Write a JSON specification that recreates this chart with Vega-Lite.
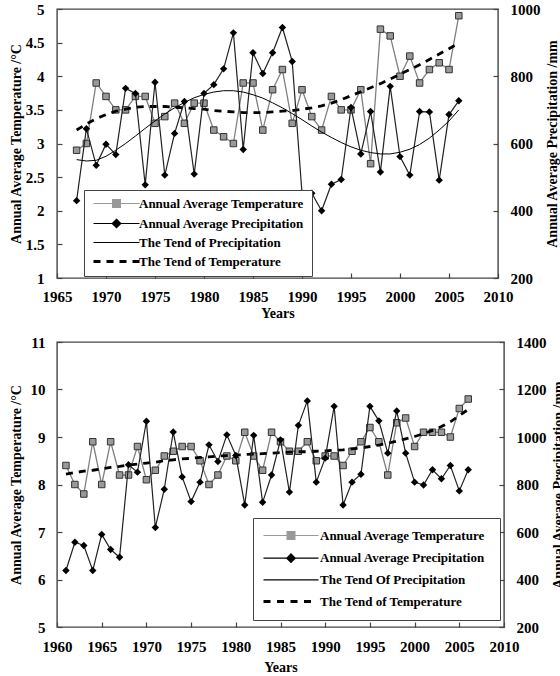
{
  "$schema": "https://vega.github.io/schema/vega-lite/v6.json",
  "background": "white",
  "padding": {"left": 8, "top": 1, "right": 0, "bottom": 0},
  "config": {
    "font": "Liberation Serif",
    "view": {"stroke": "#444", "strokeWidth": 1.4},
    "axis": {
      "labelFont": "Liberation Serif", "labelFontWeight": "bold", "labelFontSize": 15, "labelColor": "#000",
      "titleFont": "Liberation Serif", "titleFontWeight": "bold", "titleFontSize": 14, "titleColor": "#000",
      "grid": false, "domain": false, "tickColor": "#444", "tickSize": -5, "tickWidth": 1.2,
      "labelFlush": false, "labelOverlap": false
    },
    "legend": {
      "labelFont": "Liberation Serif", "labelFontWeight": "bold", "labelFontSize": 13, "labelColor": "#000",
      "strokeColor": "#444", "fillColor": "white", "padding": 7, "symbolSize": 100, "labelLimit": 300,
      "symbolOffset": 19, "labelOffset": 16, "rowPadding": 5, "title": null
    }
  },
  "datasets": {
    "top": [
      {"year":1967,"T":2.9,"P":430,"TT":3.20,"TP":552},
      {"year":1968,"T":3.0,"P":644,"TT":3.29,"TP":548},
      {"year":1969,"T":3.9,"P":535,"TT":3.37,"TP":550},
      {"year":1970,"T":3.7,"P":598,"TT":3.43,"TP":562},
      {"year":1971,"T":3.5,"P":567,"TT":3.48,"TP":580},
      {"year":1972,"T":3.5,"P":764,"TT":3.51,"TP":600},
      {"year":1973,"T":3.7,"P":749,"TT":3.54,"TP":622},
      {"year":1974,"T":3.7,"P":477,"TT":3.55,"TP":645},
      {"year":1975,"T":3.3,"P":782,"TT":3.55,"TP":667},
      {"year":1976,"T":3.4,"P":506,"TT":3.55,"TP":688},
      {"year":1977,"T":3.6,"P":630,"TT":3.54,"TP":706},
      {"year":1978,"T":3.3,"P":725,"TT":3.53,"TP":722},
      {"year":1979,"T":3.6,"P":509,"TT":3.52,"TP":736},
      {"year":1980,"T":3.6,"P":749,"TT":3.51,"TP":746},
      {"year":1981,"T":3.2,"P":775,"TT":3.49,"TP":753},
      {"year":1982,"T":3.1,"P":822,"TT":3.48,"TP":757},
      {"year":1983,"T":3.0,"P":929,"TT":3.47,"TP":757},
      {"year":1984,"T":3.9,"P":582,"TT":3.46,"TP":753},
      {"year":1985,"T":3.9,"P":870,"TT":3.46,"TP":745},
      {"year":1986,"T":3.2,"P":808,"TT":3.46,"TP":735},
      {"year":1987,"T":3.8,"P":870,"TT":3.47,"TP":721},
      {"year":1988,"T":4.1,"P":945,"TT":3.48,"TP":706},
      {"year":1989,"T":3.3,"P":844,"TT":3.49,"TP":689},
      {"year":1990,"T":3.8,"P":452,"TT":3.51,"TP":671},
      {"year":1991,"T":3.4,"P":452,"TT":3.53,"TP":652},
      {"year":1992,"T":3.2,"P":400,"TT":3.56,"TP":634},
      {"year":1993,"T":3.7,"P":479,"TT":3.60,"TP":618},
      {"year":1994,"T":3.5,"P":493,"TT":3.65,"TP":603},
      {"year":1995,"T":3.5,"P":707,"TT":3.71,"TP":590},
      {"year":1996,"T":3.8,"P":569,"TT":3.77,"TP":580},
      {"year":1997,"T":2.7,"P":695,"TT":3.83,"TP":573},
      {"year":1998,"T":4.7,"P":515,"TT":3.89,"TP":569},
      {"year":1999,"T":4.6,"P":770,"TT":3.96,"TP":569},
      {"year":2000,"T":4.0,"P":561,"TT":4.03,"TP":574},
      {"year":2001,"T":4.3,"P":506,"TT":4.10,"TP":583},
      {"year":2002,"T":3.9,"P":695,"TT":4.17,"TP":597},
      {"year":2003,"T":4.1,"P":694,"TT":4.25,"TP":616},
      {"year":2004,"T":4.2,"P":491,"TT":4.33,"TP":640},
      {"year":2005,"T":4.1,"P":686,"TT":4.41,"TP":667},
      {"year":2006,"T":4.9,"P":727,"TT":4.49,"TP":700}
    ],
    "bottom": [
      {"year":1961,"T":8.4,"P":438,"TT":8.22},
      {"year":1962,"T":8.0,"P":557,"TT":8.25},
      {"year":1963,"T":7.8,"P":543,"TT":8.28},
      {"year":1964,"T":8.9,"P":438,"TT":8.30},
      {"year":1965,"T":8.0,"P":590,"TT":8.33},
      {"year":1966,"T":8.9,"P":526,"TT":8.36},
      {"year":1967,"T":8.2,"P":494,"TT":8.38},
      {"year":1968,"T":8.2,"P":883,"TT":8.41},
      {"year":1969,"T":8.8,"P":852,"TT":8.43},
      {"year":1970,"T":8.1,"P":1066,"TT":8.45},
      {"year":1971,"T":8.3,"P":619,"TT":8.47},
      {"year":1972,"T":8.6,"P":780,"TT":8.50},
      {"year":1973,"T":8.7,"P":1021,"TT":8.52},
      {"year":1974,"T":8.8,"P":832,"TT":8.54},
      {"year":1975,"T":8.8,"P":728,"TT":8.55},
      {"year":1976,"T":8.5,"P":810,"TT":8.57},
      {"year":1977,"T":8.0,"P":967,"TT":8.58},
      {"year":1978,"T":8.2,"P":897,"TT":8.60},
      {"year":1979,"T":8.6,"P":1009,"TT":8.61},
      {"year":1980,"T":8.5,"P":922,"TT":8.62},
      {"year":1981,"T":9.1,"P":714,"TT":8.63},
      {"year":1982,"T":8.6,"P":1007,"TT":8.64},
      {"year":1983,"T":8.3,"P":725,"TT":8.65},
      {"year":1984,"T":9.1,"P":840,"TT":8.66},
      {"year":1985,"T":8.9,"P":988,"TT":8.67},
      {"year":1986,"T":8.7,"P":768,"TT":8.68},
      {"year":1987,"T":8.7,"P":1049,"TT":8.69},
      {"year":1988,"T":8.9,"P":1152,"TT":8.69},
      {"year":1989,"T":8.5,"P":810,"TT":8.70},
      {"year":1990,"T":8.6,"P":911,"TT":8.71},
      {"year":1991,"T":8.6,"P":1129,"TT":8.72},
      {"year":1992,"T":8.4,"P":714,"TT":8.73},
      {"year":1993,"T":8.7,"P":810,"TT":8.75},
      {"year":1994,"T":8.9,"P":843,"TT":8.77},
      {"year":1995,"T":9.2,"P":1129,"TT":8.80},
      {"year":1996,"T":8.9,"P":1068,"TT":8.83},
      {"year":1997,"T":8.2,"P":932,"TT":8.87},
      {"year":1998,"T":9.3,"P":1110,"TT":8.91},
      {"year":1999,"T":9.4,"P":932,"TT":8.96},
      {"year":2000,"T":8.8,"P":810,"TT":9.01},
      {"year":2001,"T":9.1,"P":798,"TT":9.07},
      {"year":2002,"T":9.1,"P":862,"TT":9.14},
      {"year":2003,"T":9.1,"P":824,"TT":9.22},
      {"year":2004,"T":9.0,"P":880,"TT":9.32},
      {"year":2005,"T":9.6,"P":773,"TT":9.45},
      {"year":2006,"T":9.8,"P":862,"TT":9.58}
    ]
  },
  "spacing": 13,
  "resolve": {"scale": {"color": "independent"}, "legend": {"color": "independent"}},
  "vconcat": [
    {
      "width": 441, "height": 269,
      "data": {"name": "top"},
      "encoding": {
        "x": {"field": "year", "type": "quantitative",
          "scale": {"domain": [1965, 2010], "nice": false, "zero": false},
          "axis": {"values": [1965,1970,1975,1980,1985,1990,1995,2000,2005,2010], "format": "d", "title": "Years", "labelPadding": 16, "titlePadding": 2}}
      },
      "resolve": {"scale": {"y": "independent"}},
      "layer": [
        {
          "encoding": {
            "y": {"type": "quantitative", "scale": {"domain": [1, 5], "nice": false, "zero": false},
              "axis": {"orient": "left", "values": [1,1.5,2,2.5,3,3.5,4,4.5,5], "labelExpr": "'' + datum.value", "title": "Annual Average Temperature  /°C", "labelPadding": 18, "titlePadding": 2}}
          },
          "layer": [
            {"mark": {"type": "line", "color": "#808080", "strokeWidth": 1.3}, "encoding": {"y": {"field": "T"}}},
            {"mark": {"type": "point", "shape": "square", "filled": true, "fill": "#999999", "stroke": "#333333", "strokeWidth": 1, "size": 42, "opacity": 1}, "encoding": {"y": {"field": "T"}}},
            {"mark": {"type": "line", "color": "#000000", "strokeWidth": 2.8, "strokeDash": [7, 6]}, "encoding": {"y": {"field": "TT"}}}
          ]
        },
        {
          "encoding": {
            "y": {"type": "quantitative", "scale": {"domain": [200, 1000], "nice": false, "zero": false},
              "axis": {"orient": "right", "values": [200,400,600,800,1000], "format": "d", "title": "Annual Average Precipitation  /mm", "titleAngle": 270, "labelPadding": 17, "titlePadding": 19}}
          },
          "layer": [
            {"mark": {"type": "line", "color": "#222222", "strokeWidth": 1.2}, "encoding": {"y": {"field": "P"}}},
            {"mark": {"type": "point", "shape": "diamond", "filled": true, "color": "#000000", "size": 55, "opacity": 1}, "encoding": {"y": {"field": "P"}}},
            {"mark": {"type": "line", "color": "#000000", "strokeWidth": 1}, "encoding": {"y": {"field": "TP"}}}
          ]
        },
        {
          "transform": [{"fold": ["T", "P", "TP", "TT"], "as": ["s", "val"]}],
          "mark": {"type": "point", "opacity": 0, "size": 0},
          "encoding": {
            "color": {"field": "s", "type": "nominal",
              "scale": {"domain": ["T", "P", "TP", "TT"], "range": ["#999999", "#000000", "#000000", "#000000"]},
              "legend": {"orient": "none", "legendX": 27, "legendY": 181,
                "labelExpr": "datum.value==='T'?'Annual Average Temperature':datum.value==='P'?'Annual Average Precipitation':datum.value==='TP'?'The Tend of Precipitation':'The Tend of Temperature'",
                "encoding": {"symbols": {
                  "shape": {"value": {"expr": "datum.value==='T'?'M-4.6,0H-0.78M0.78,0H4.6M-0.78,-0.78H0.78V0.78H-0.78Z':datum.value==='P'?'M-4.6,0H4.6M0,-0.85L0.85,0L0,0.85L-0.85,0Z':datum.value==='TP'?'M-4.6,0H4.6':'M-4.6,0H-3.2M-2,0H-0.6M0.6,0H2M3.2,0H4.6'"}},
                  "fill": {"value": {"expr": "datum.value==='T'?'#999999':datum.value==='P'?'#000000':'transparent'"}},
                  "stroke": {"value": {"expr": "datum.value==='T'?'#555555':'#000000'"}},
                  "strokeWidth": {"value": {"expr": "datum.value==='TT'?3:1.2"}},
                  "opacity": {"value": 1},
                  "size": {"value": 100}
                }}}
            }
          }
        }
      ]
    },
    {
      "width": 447, "height": 285,
      "data": {"name": "bottom"},
      "encoding": {
        "x": {"field": "year", "type": "quantitative",
          "scale": {"domain": [1960, 2010], "nice": false, "zero": false},
          "axis": {"values": [1960,1965,1970,1975,1980,1985,1990,1995,2000,2005,2010], "format": "d", "title": "Years", "labelPadding": 17, "titlePadding": 6}}
      },
      "resolve": {"scale": {"y": "independent"}},
      "layer": [
        {
          "encoding": {
            "y": {"type": "quantitative", "scale": {"domain": [5, 11], "nice": false, "zero": false},
              "axis": {"orient": "left", "values": [5,6,7,8,9,10,11], "labelExpr": "'' + datum.value", "title": "Annual Average  Temperature /°C", "labelPadding": 17, "titlePadding": 7}}
          },
          "layer": [
            {"mark": {"type": "line", "color": "#808080", "strokeWidth": 1.3}, "encoding": {"y": {"field": "T"}}},
            {"mark": {"type": "point", "shape": "square", "filled": true, "fill": "#999999", "stroke": "#333333", "strokeWidth": 1, "size": 42, "opacity": 1}, "encoding": {"y": {"field": "T"}}},
            {"mark": {"type": "line", "color": "#000000", "strokeWidth": 2.8, "strokeDash": [7, 6]}, "encoding": {"y": {"field": "TT"}}}
          ]
        },
        {
          "encoding": {
            "y": {"type": "quantitative", "scale": {"domain": [200, 1400], "nice": false, "zero": false},
              "axis": {"orient": "right", "values": [200,400,600,800,1000,1200,1400], "format": "d", "title": "Annual Average Precipitation  /mm", "titleAngle": 270, "labelPadding": 17, "titlePadding": 19}}
          },
          "layer": [
            {"mark": {"type": "line", "color": "#222222", "strokeWidth": 1.2}, "encoding": {"y": {"field": "P"}}},
            {"mark": {"type": "point", "shape": "diamond", "filled": true, "color": "#000000", "size": 55, "opacity": 1}, "encoding": {"y": {"field": "P"}}}
          ]
        },
        {
          "transform": [{"fold": ["T", "P", "TT"], "as": ["s", "val"]}],
          "mark": {"type": "point", "opacity": 0, "size": 0},
          "encoding": {
            "color": {"field": "s", "type": "nominal",
              "scale": {"domain": ["T", "P", "TP", "TT"], "range": ["#999999", "#000000", "#000000", "#000000"]},
              "legend": {"orient": "none", "legendX": 196, "legendY": 176, "rowPadding": 7.7, "padding": 11, "symbolOffset": 20.5, "labelOffset": 22.5,
                "labelExpr": "datum.value==='T'?'Annual Average  Temperature':datum.value==='P'?'Annual Average Precipitation':datum.value==='TP'?'The Tend Of Precipitation':'The Tend of Temperature'",
                "encoding": {"symbols": {
                  "shape": {"value": {"expr": "datum.value==='T'?'M-5.5,0H-0.78M0.78,0H5.5M-0.78,-0.78H0.78V0.78H-0.78Z':datum.value==='P'?'M-5.5,0H5.5M0,-0.85L0.85,0L0,0.85L-0.85,0Z':datum.value==='TP'?'M-5.5,0H5.5':'M-5.5,0H-4.1M-2.8,0H-1.4M-0.1,0H1.3M2.6,0H4'"}},
                  "fill": {"value": {"expr": "datum.value==='T'?'#999999':datum.value==='P'?'#000000':'transparent'"}},
                  "stroke": {"value": {"expr": "datum.value==='T'?'#555555':'#000000'"}},
                  "strokeWidth": {"value": {"expr": "datum.value==='TT'?3:1.2"}},
                  "opacity": {"value": 1},
                  "size": {"value": 100}
                }}}
            }
          }
        }
      ]
    }
  ]
}
